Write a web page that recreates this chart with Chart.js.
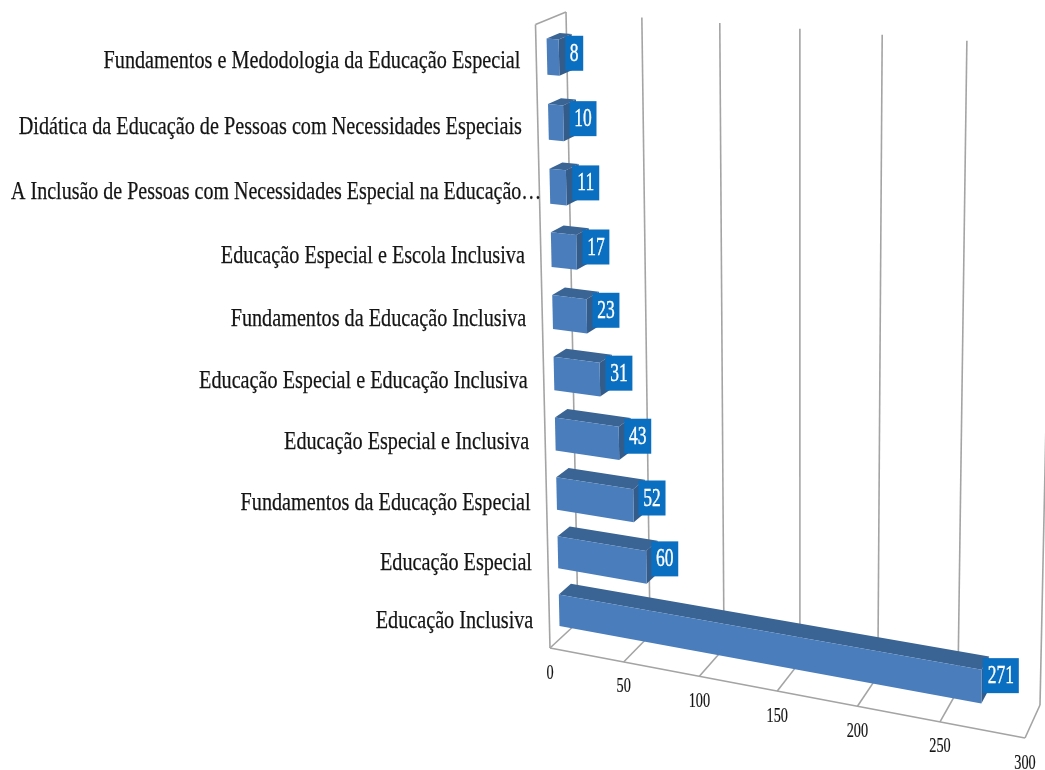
<!DOCTYPE html>
<html lang="pt">
<head>
<meta charset="utf-8">
<title>Disciplinas</title>
<style>html,body{margin:0;padding:0;background:#fff}canvas{display:block}</style>
<script src="https://cdn.jsdelivr.net/npm/chart.js@4/dist/chart.umd.min.js"></script>
</head>
<body>
<canvas id="chart" width="1045" height="770"></canvas>
<script>
const categories = [
  "Fundamentos e Medodologia da Educação Especial",
  "Didática da Educação de Pessoas com Necessidades Especiais",
  "A Inclusão de Pessoas com Necessidades Especial na Educação…",
  "Educação Especial e Escola Inclusiva",
  "Fundamentos da Educação Inclusiva",
  "Educação Especial e Educação Inclusiva",
  "Educação Especial e Inclusiva",
  "Fundamentos da Educação Especial",
  "Educação Especial",
  "Educação Inclusiva"
];
const counts = [8, 10, 11, 17, 23, 31, 43, 52, 60, 271];

// Corners of the front and back planes of the 3D box: TL, TR, BR, BL.
const frontQuad = [[535.5, 24.5], [1032, 60], [1025, 738], [550, 648]];
const backQuad  = [[566, 12], [1054, 47], [1040, 705], [578, 622]];
const BAR_NEAR = 0.35, BAR_FAR = 0.78;
const ROW_TILT = 0.03;
const COLORS = { grid: "#a4a4a4", front: "#4a7dbb", top: "#3a6494", side: "#345c8a", box: "#0a6fc0", ink: "#141414" };
const SERIF = '"Liberation Serif", serif';

function homography(q) {
  const [[x0, y0], [x1, y1], [x2, y2], [x3, y3]] = q;
  const dx1 = x1 - x2, dx2 = x3 - x2, dy1 = y1 - y2, dy2 = y3 - y2;
  const sx = x0 - x1 + x2 - x3, sy = y0 - y1 + y2 - y3;
  const den = dx1 * dy2 - dx2 * dy1;
  const g = (sx * dy2 - dx2 * sy) / den, h = (dx1 * sy - sx * dy1) / den;
  const a = x1 - x0 + g * x1, b = x3 - x0 + h * x3, d = y1 - y0 + g * y1, e = y3 - y0 + h * y3;
  return (u, v) => {
    const w = g * u + h * v + 1;
    return [(a * u + b * v + x0) / w, (d * u + e * v + y0) / w];
  };
}
const frontMap = homography(frontQuad), backMap = homography(backQuad);

// Projects a canvas pixel of the flat chart to the box, at depth z (0 = front, 1 = back).
function project(chart, px, py, z) {
  const u = px / chart.width;
  const raw = py / chart.height;
  const v = (1 + ROW_TILT) * raw / (1 + ROW_TILT * raw);
  const f = frontMap(u, v), b = backMap(u, v);
  return [f[0] + (b[0] - f[0]) * z, f[1] + (b[1] - f[1]) * z];
}

function poly(ctx, pts, fill) {
  ctx.beginPath();
  pts.forEach((p, i) => i ? ctx.lineTo(p[0], p[1]) : ctx.moveTo(p[0], p[1]));
  ctx.closePath();
  ctx.fillStyle = fill;
  ctx.fill();
}
function line(ctx, a, b) {
  ctx.beginPath();
  ctx.moveTo(a[0], a[1]);
  ctx.lineTo(b[0], b[1]);
  ctx.stroke();
}
function squeezedText(ctx, text, x, y, size, squeeze, align, color, weight) {
  ctx.save();
  ctx.translate(x, y);
  ctx.scale(squeeze, 1);
  ctx.font = size + "px " + SERIF;
  ctx.textAlign = align;
  ctx.textBaseline = "middle";
  ctx.fillStyle = color;
  ctx.fillText(text, 0, 0);
  if (weight) {
    ctx.strokeStyle = color;
    ctx.lineWidth = weight;
    ctx.strokeText(text, 0, 0);
  }
  ctx.restore();
}

const box3d = {
  id: "box3d",
  beforeDatasetsDraw(chart) {
    const ctx = chart.ctx, xs = chart.scales.x, ys = chart.scales.y;
    const W = chart.width, H = chart.height;
    const P = (px, py, z) => project(chart, px, py, z);

    // Left wall outline, back wall lines and floor lines
    ctx.save();
    ctx.strokeStyle = COLORS.grid;
    ctx.lineWidth = 1.6;
    line(ctx, P(0, 0, 0), P(0, 0, 1));
    line(ctx, P(0, 0, 0), P(0, H, 0));
    line(ctx, P(0, H, 0), P(W, H, 0));
    xs.ticks.forEach(t => {
      const px = xs.getPixelForValue(t.value);
      line(ctx, P(px, 0, 1), P(px, H, 1));
      line(ctx, P(px, H, 1), P(px, H, 0));
    });
    ctx.restore();

    // Value axis labels under the front floor edge
    xs.ticks.forEach(t => {
      const p = P(xs.getPixelForValue(t.value), H, 0);
      squeezedText(ctx, String(t.value), p[0], p[1] + 25, 21, 0.68, "center", COLORS.ink, 0.2);
    });

    // Category labels beside the left wall
    categories.forEach((name, i) => {
      const p = P(0, ys.getPixelForValue(i), 0);
      const overhang = name.endsWith("…") ? 18 : 0;
      const drop = 3 * i / (categories.length - 1) - 0.5;
      const squeeze = name.endsWith("…") ? 0.77 : 0.777;
      squeezedText(ctx, name, p[0] - 16 + overhang, p[1] + drop, 26, squeeze, "right", COLORS.ink, 0.25);
    });

    // Bars, each with front, top and end faces
    const meta = chart.getDatasetMeta(0);
    meta.data.forEach(bar => {
      const { x, y, base, height } = bar.getProps(["x", "y", "base", "height"], true);
      const t = y - height / 2, b = y + height / 2;
      const fTL = P(base, t, BAR_NEAR), fTR = P(x, t, BAR_NEAR);
      const fBL = P(base, b, BAR_NEAR), fBR = P(x, b, BAR_NEAR);
      const kTL = P(base, t, BAR_FAR), kTR = P(x, t, BAR_FAR), kBR = P(x, b, BAR_FAR);
      poly(ctx, [fTL, kTL, kTR, fTR], COLORS.top);
      poly(ctx, [fTR, kTR, kBR, fBR], COLORS.side);
      poly(ctx, [fTL, fTR, fBR, fBL], COLORS.front);
    });

    // Value boxes at the end of each bar
    meta.data.forEach((bar, i) => {
      const { x, y } = bar.getProps(["x", "y"], true);
      const label = String(counts[i]);
      const c = P(x, y, 0.72);
      const left = c[0] - 5, mid = c[1] + 0.5;
      const w = 9 + 9 * label.length, h = 35;
      ctx.fillStyle = COLORS.box;
      ctx.fillRect(left, mid - h / 2, w, h);
      squeezedText(ctx, label, left + w / 2, mid + 1, 25, 0.7, "center", "#ffffff", 0.35);
    });
    return false;
  }
};

new Chart(document.getElementById("chart"), {
  type: "bar",
  data: {
    labels: categories,
    datasets: [{ data: counts, backgroundColor: COLORS.front, categoryPercentage: 1, barPercentage: 0.55 }]
  },
  options: {
    indexAxis: "y",
    responsive: false,
    animation: false,
    layout: { padding: { top: 4 } },
    plugins: { legend: { display: false }, tooltip: { enabled: false } },
    scales: {
      x: { display: false, min: 0, max: 300, ticks: { stepSize: 50 } },
      y: { display: false }
    }
  },
  plugins: [box3d]
});
</script>
</body>
</html>
